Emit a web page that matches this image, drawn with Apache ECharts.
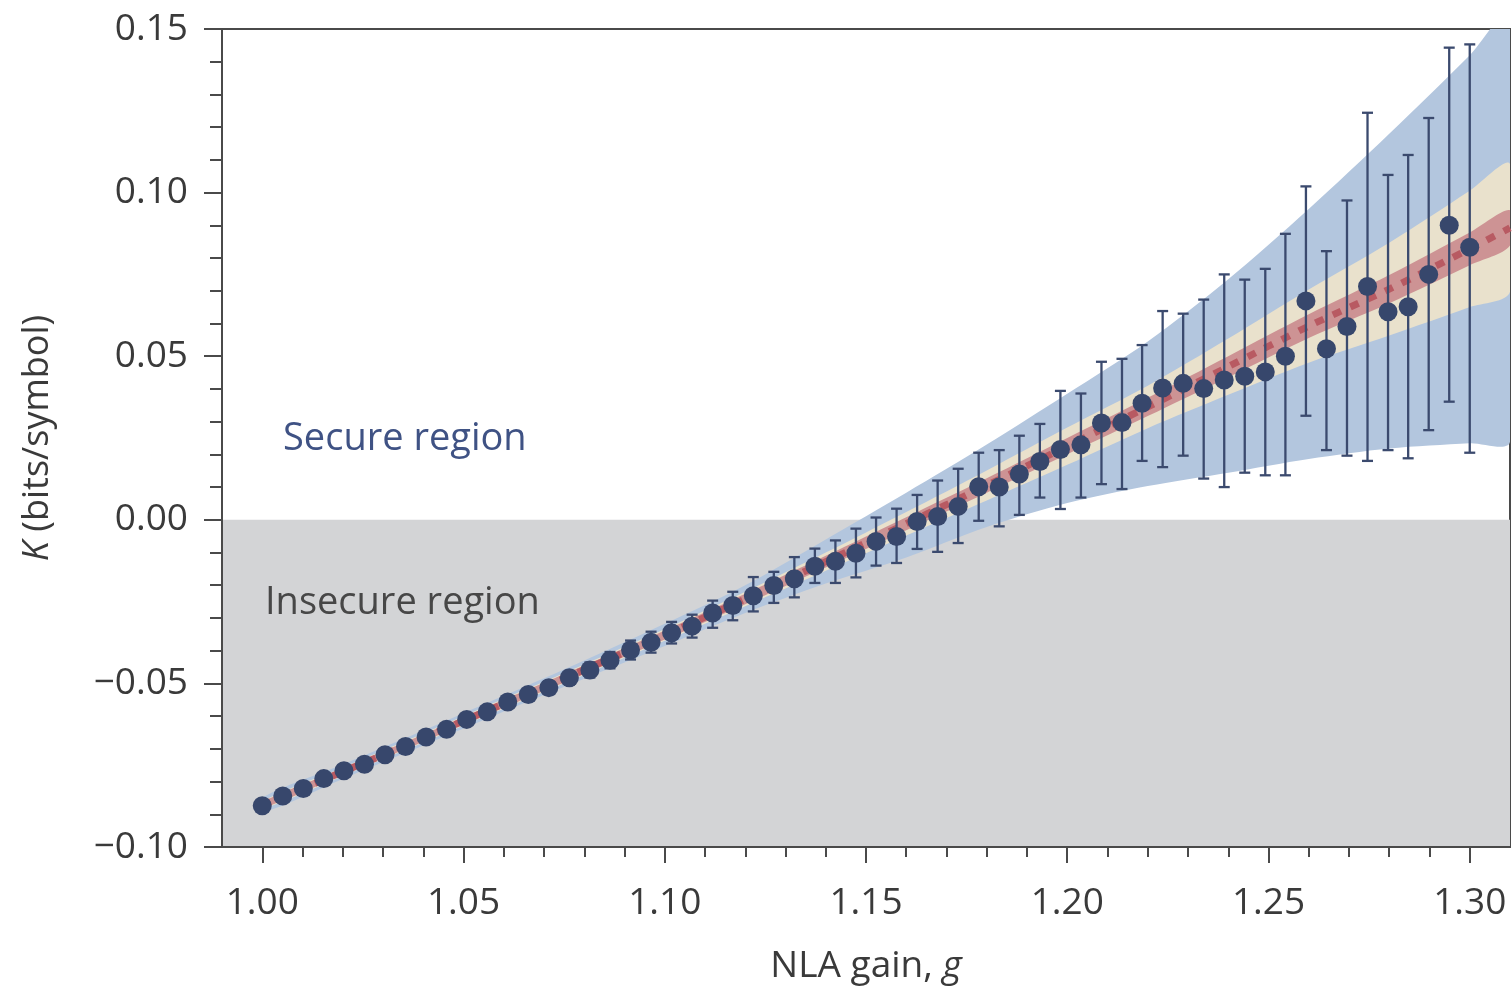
<!DOCTYPE html>
<html>
<head>
<meta charset="utf-8">
<script src="https://cdn.jsdelivr.net/npm/echarts@6/dist/echarts.min.js"></script>
<style>
html,body{margin:0;padding:0;background:#fff;}
#chart{width:1512px;height:990px;}
</style>
</head>
<body>
<div id="chart"></div>
<script>
// ---- measured data points (NLA gain g, key rate K) ----
const gains = [1.0000, 1.0051, 1.0102, 1.0153, 1.0203, 1.0254, 1.0305, 1.0356, 1.0407, 1.0458,
  1.0508, 1.0559, 1.0610, 1.0661, 1.0712, 1.0763, 1.0814, 1.0864, 1.0915, 1.0966,
  1.1017, 1.1068, 1.1119, 1.1169, 1.1220, 1.1271, 1.1322, 1.1373, 1.1424, 1.1475,
  1.1525, 1.1576, 1.1627, 1.1678, 1.1729, 1.1780, 1.1831, 1.1881, 1.1932, 1.1983,
  1.2034, 1.2085, 1.2136, 1.2186, 1.2237, 1.2288, 1.2339, 1.2390, 1.2441, 1.2492,
  1.2542, 1.2593, 1.2644, 1.2695, 1.2746, 1.2797, 1.2847, 1.2898, 1.2949, 1.3000];
const kValues = [-0.0874, -0.0844, -0.0821, -0.0791, -0.0767, -0.0747, -0.0718, -0.0693, -0.0664, -0.0640,
  -0.0610, -0.0587, -0.0557, -0.0534, -0.0513, -0.0483, -0.0459, -0.0429, -0.0398, -0.0374,
  -0.0345, -0.0325, -0.0285, -0.0262, -0.0232, -0.0201, -0.0180, -0.0142, -0.0127, -0.0102,
  -0.0066, -0.0051, -0.0005, 0.0010, 0.0041, 0.0101, 0.0100, 0.0140, 0.0178, 0.0215,
  0.0229, 0.0296, 0.0297, 0.0356, 0.0403, 0.0417, 0.0401, 0.0427, 0.0439, 0.0452,
  0.0500, 0.0669, 0.0523, 0.0591, 0.0713, 0.0636, 0.0651, 0.0750, 0.0900, 0.0833];
const errLow = [-0.0884, -0.0855, -0.0832, -0.0803, -0.0779, -0.0760, -0.0731, -0.0707, -0.0679, -0.0655,
  -0.0626, -0.0604, -0.0575, -0.0553, -0.0533, -0.0504, -0.0482, -0.0454, -0.0427, -0.0406,
  -0.0378, -0.0360, -0.0330, -0.0307, -0.0280, -0.0254, -0.0237, -0.0193, -0.0193, -0.0176,
  -0.0140, -0.0132, -0.0089, -0.0098, -0.0071, -0.0003, -0.0020, 0.0015, 0.0068, 0.0033,
  0.0068, 0.0109, 0.0094, 0.0180, 0.0161, 0.0196, 0.0126, 0.0100, 0.0144, 0.0136,
  0.0136, 0.0318, 0.0213, 0.0196, 0.0180, 0.0213, 0.0188, 0.0274, 0.0361, 0.0205];
const errHigh = [-0.0864, -0.0833, -0.0810, -0.0779, -0.0755, -0.0734, -0.0705, -0.0679, -0.0649, -0.0625,
  -0.0594, -0.0570, -0.0539, -0.0515, -0.0493, -0.0462, -0.0436, -0.0404, -0.0369, -0.0342,
  -0.0312, -0.0290, -0.0247, -0.0220, -0.0175, -0.0159, -0.0114, -0.0088, -0.0063, -0.0027,
  0.0007, 0.0034, 0.0076, 0.0120, 0.0156, 0.0205, 0.0213, 0.0257, 0.0293, 0.0394,
  0.0386, 0.0483, 0.0492, 0.0534, 0.0638, 0.0630, 0.0673, 0.0750, 0.0734, 0.0767,
  0.0874, 0.1019, 0.0821, 0.0976, 0.1244, 0.1054, 0.1115, 0.1228, 0.1443, 0.1453];

// ---- theory bands ----
const bandG      = [1.00, 1.02, 1.04, 1.06, 1.08, 1.10, 1.12, 1.14, 1.16, 1.18, 1.20, 1.22, 1.24, 1.26, 1.28, 1.30, 1.31];
const theoryK    = [-0.0872, -0.0770, -0.0667, -0.0562, -0.0458, -0.0352, -0.0242, -0.0128, -0.0012, 0.0105, 0.0225, 0.0345, 0.0468, 0.0592, 0.0705, 0.0828, 0.0892];
const blueUpper  = [-0.0850, -0.0748, -0.0644, -0.0538, -0.0430, -0.0318, -0.0200, -0.0060, 0.0083, 0.0230, 0.0385, 0.0545, 0.0735, 0.0950, 0.1180, 0.1420, 0.1550];
const blueLower  = [-0.0894, -0.0792, -0.0690, -0.0586, -0.0486, -0.0386, -0.0285, -0.0195, -0.0115, -0.0022, 0.0051, 0.0103, 0.0144, 0.0186, 0.0218, 0.0234, 0.0239];
const beigeUpper = [-0.0860, -0.0757, -0.0653, -0.0547, -0.0442, -0.0334, -0.0220, -0.0100, 0.0024, 0.0151, 0.0282, 0.0410, 0.0554, 0.0704, 0.0847, 0.1006, 0.1087];
const beigeLower = [-0.0884, -0.0783, -0.0681, -0.0577, -0.0474, -0.0370, -0.0264, -0.0156, -0.0048, 0.0059, 0.0168, 0.0280, 0.0382, 0.0480, 0.0563, 0.0650, 0.0697];
const redUpper   = [-0.0862, -0.0760, -0.0656, -0.0550, -0.0445, -0.0338, -0.0226, -0.0110, 0.0008, 0.0127, 0.0250, 0.0373, 0.0500, 0.0628, 0.0748, 0.0878, 0.0946];
const redLower   = [-0.0882, -0.0780, -0.0678, -0.0574, -0.0471, -0.0366, -0.0258, -0.0146, -0.0032, 0.0083, 0.0200, 0.0317, 0.0436, 0.0556, 0.0662, 0.0778, 0.0838];

// ---- axes ----
const xMajorTicks = [1.00, 1.05, 1.10, 1.15, 1.20, 1.25, 1.30];
const xMinorTicks = [1.01, 1.02, 1.03, 1.04, 1.06, 1.07, 1.08, 1.09, 1.11, 1.12, 1.13, 1.14,
  1.16, 1.17, 1.18, 1.19, 1.21, 1.22, 1.23, 1.24, 1.26, 1.27, 1.28, 1.29];
const xRange = [0.99, 1.31];
const yRange = [-0.10, 0.15];
const insecureRange = [-0.10, 0.00];

const FONT = '"Open Sans", "Noto Sans", sans-serif';
const TXT = '#3a3a3a';
const AX = '#4a4a4a';

function bandSeries(upper, lower, color, z) {
  return {
    type: 'custom', z: z, silent: true, clip: true,
    data: [0],
    renderItem: function (params, api) {
      const pts = [];
      for (let i = 0; i < bandG.length; i++) pts.push(api.coord([bandG[i], upper[i]]));
      for (let i = bandG.length - 1; i >= 0; i--) pts.push(api.coord([bandG[i], lower[i]]));
      return { type: 'polygon', shape: { points: pts, smooth: 0.3 }, style: { fill: color } };
    }
  };
}

const chart = echarts.init(document.getElementById('chart'), null, { renderer: 'canvas' });
chart.setOption({
  backgroundColor: '#ffffff',
  animation: false,
  grid: { left: 222, top: 29, right: 2, bottom: 143, outerBoundsMode: 'none', containLabel: false,
    show: true, borderColor: AX, borderWidth: 2, backgroundColor: 'transparent' },
  xAxis: [{
    type: 'value', min: xRange[0], max: xRange[1],
    axisLine: { show: true, onZero: false, lineStyle: { color: AX, width: 2 } },
    axisTick: { show: true, customValues: xMajorTicks, length: 16, lineStyle: { color: AX, width: 2 } },
    axisLabel: { customValues: xMajorTicks, margin: 38, fontFamily: FONT, fontSize: 37, color: TXT,
      formatter: v => v.toFixed(2) },
    splitLine: { show: false },
    name: 'NLA gain, {i|g}', nameLocation: 'middle', nameGap: 101,
    nameTextStyle: { fontFamily: FONT, fontSize: 37, color: TXT,
      rich: { i: { fontFamily: FONT, fontSize: 37, fontStyle: 'italic', color: TXT } } }
  }, {
    type: 'value', min: xRange[0], max: xRange[1], position: 'bottom',
    axisLine: { show: false, onZero: false },
    axisTick: { show: true, customValues: xMinorTicks, length: 10, lineStyle: { color: AX, width: 2 } },
    axisLabel: { show: false }, splitLine: { show: false }
  }],
  yAxis: {
    type: 'value', min: yRange[0], max: yRange[1], interval: 0.05,
    axisLine: { show: true, onZero: false, lineStyle: { color: AX, width: 2 } },
    axisTick: { show: true, length: 18, lineStyle: { color: AX, width: 2 } },
    minorTick: { show: true, splitNumber: 5, length: 12, lineStyle: { color: AX, width: 2 } },
    axisLabel: { margin: 34, fontFamily: FONT, fontSize: 37, color: TXT,
      formatter: v => (v < 0 ? '\u2212' + Math.abs(v).toFixed(2) : v.toFixed(2)) },
    splitLine: { show: false },
    name: '{i|K} (bits/symbol)', nameLocation: 'middle', nameGap: 166, nameRotate: 90,
    nameTextStyle: { fontFamily: FONT, fontSize: 36, color: TXT,
      rich: { i: { fontFamily: FONT, fontSize: 36, fontStyle: 'italic', color: TXT } } }
  },
  graphic: [
    { type: 'text', left: 283, top: 420, z: 100, silent: true,
      style: { text: 'Secure region', fontFamily: FONT, fontSize: 38, fill: '#3f5284' } },
    { type: 'text', left: 265, top: 584, z: 100, silent: true,
      style: { text: 'Insecure region', fontFamily: FONT, fontSize: 38, fill: '#474747' } }
  ],
  series: [
    {
      type: 'custom', z: 0, silent: true, clip: true, data: [0],
      renderItem: function (params, api) {
        const p1 = api.coord([xRange[0], insecureRange[1]]);
        const p2 = api.coord([xRange[1], insecureRange[0]]);
        return { type: 'rect', shape: { x: p1[0], y: p1[1], width: p2[0] - p1[0], height: p2[1] - p1[1] },
          style: { fill: '#d3d4d6' } };
      }
    },
    bandSeries(blueUpper, blueLower, '#b3c6de', 1),
    bandSeries(beigeUpper, beigeLower, '#e9e1cc', 2),
    bandSeries(redUpper, redLower, '#cd9394', 3),
    {
      type: 'line', z: 4, silent: true, symbol: 'none', clip: true, smooth: 0.3,
      data: bandG.map((g, i) => [g, theoryK[i]]),
      lineStyle: { color: '#b85a62', width: 7, type: [9, 10] }
    },
    {
      type: 'custom', z: 5, silent: true, clip: true,
      data: gains.map((g, i) => [g, errLow[i], errHigh[i]]),
      renderItem: function (params, api) {
        const lo = api.coord([api.value(0), api.value(1)]);
        const hi = api.coord([api.value(0), api.value(2)]);
        const cw = 5.5;
        const st = { stroke: '#3b4a6e', lineWidth: 2.3 };
        return { type: 'group', children: [
          { type: 'line', shape: { x1: lo[0], y1: lo[1], x2: hi[0], y2: hi[1] }, style: st },
          { type: 'line', shape: { x1: lo[0] - cw, y1: lo[1], x2: lo[0] + cw, y2: lo[1] }, style: st },
          { type: 'line', shape: { x1: hi[0] - cw, y1: hi[1], x2: hi[0] + cw, y2: hi[1] }, style: st }
        ] };
      }
    },
    {
      type: 'scatter', z: 6, silent: true,
      data: gains.map((g, i) => [g, kValues[i]]),
      symbol: 'circle', symbolSize: 19,
      itemStyle: { color: '#37476c', opacity: 1 }
    }
  ]
});
</script>
</body>
</html>
